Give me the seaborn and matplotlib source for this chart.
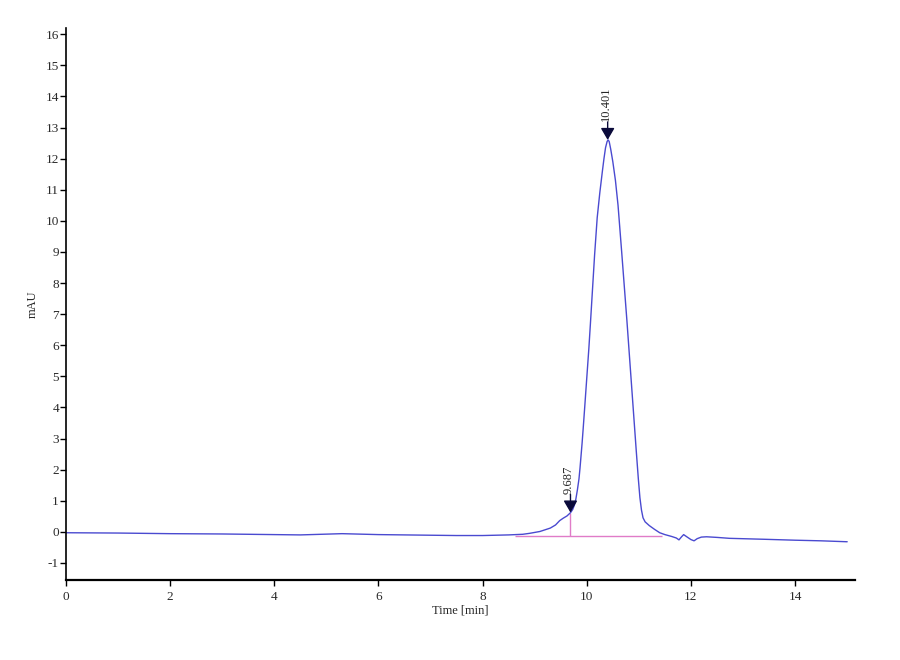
import matplotlib
matplotlib.use("Agg")
import matplotlib.pyplot as plt
import seaborn as sns
import pandas as pd

# chromatogram trace (time in min, signal in mAU)
time_min = [0.0, 1.0, 2.0, 3.0, 4.0, 4.5, 5.3, 6.0, 7.0, 7.5, 8.0, 8.5, 8.77, 8.9,
            9.1, 9.3, 9.4, 9.48, 9.55, 9.62, 9.69, 9.73, 9.76, 9.79, 9.82, 9.85,
            9.87, 9.89, 9.91, 9.93, 9.96, 10.0, 10.04, 10.07, 10.11, 10.15, 10.20,
            10.25, 10.30, 10.33, 10.36, 10.39, 10.41, 10.43, 10.46, 10.50, 10.55,
            10.60, 10.67, 10.77, 10.86, 10.95, 10.99, 11.02, 11.05, 11.08, 11.12,
            11.20, 11.30, 11.40, 11.50, 11.63, 11.72, 11.77, 11.82, 11.86, 11.92,
            12.00, 12.06, 12.12, 12.20, 12.30, 12.50, 12.74, 13.40, 14.00, 14.50,
            15.00]
signal_mau = [-0.03, -0.04, -0.06, -0.07, -0.09, -0.10, -0.06, -0.09, -0.11, -0.12,
              -0.12, -0.10, -0.08, -0.05, 0.01, 0.12, 0.22, 0.36, 0.44, 0.51, 0.62,
              0.72, 0.85, 1.05, 1.35, 1.7, 2.05, 2.45, 2.85, 3.3, 4.0, 4.95, 5.9,
              6.7, 7.8, 8.9, 10.1, 10.9, 11.6, 12.0, 12.35, 12.55, 12.6, 12.55,
              12.3, 11.9, 11.3, 10.5, 9.0, 6.8, 4.7, 2.6, 1.7, 1.1, 0.7, 0.45, 0.32,
              0.20, 0.08, -0.03, -0.09, -0.15, -0.20, -0.26, -0.16, -0.09, -0.16,
              -0.25, -0.29, -0.22, -0.17, -0.16, -0.18, -0.21, -0.24, -0.27, -0.29,
              -0.32]

peak_times = [9.687, 10.401]
peak_heights = [0.62, 12.6]
peak_labels = ["9.687", "10.401"]

baseline_start = 8.62
baseline_end = 11.44
baseline_level = -0.13

df = pd.DataFrame({"time": time_min, "mau": signal_mau})

sns.set_theme(style="ticks")
plt.rcParams["font.family"] = ["Liberation Serif", "DejaVu Serif"]
plt.rcParams["axes.unicode_minus"] = False

fig = plt.figure(figsize=(9, 6.6), dpi=100)
ax = fig.add_axes([0.0733, 0.1212, 0.8767, 0.8364])

# integration baseline + drop line (pink)
ax.hlines(baseline_level, baseline_start, baseline_end, color="#e07cc8", lw=1)
ax.vlines(peak_times[0], baseline_level, peak_heights[0], color="#e07cc8", lw=1)

sns.lineplot(data=df, x="time", y="mau", ax=ax, color="#4a4ad0", lw=1,
             sort=False, estimator=None)

# peak markers
for t, h, lab in zip(peak_times, peak_heights, peak_labels):
    ax.annotate("", xy=(t, h), xytext=(0, 13), textcoords="offset points",
                arrowprops=dict(arrowstyle="-|>,head_length=0.6,head_width=0.35",
                                color="#0a0a3a", lw=1, mutation_scale=12,
                                shrinkA=0, shrinkB=0))
    ax.annotate(lab, xy=(t, h), xytext=(-1, 13.5), textcoords="offset points",
                rotation=90, ha="center", va="bottom", fontsize=9)

ax.set_xlim(0, 15.15)
ax.set_ylim(-1.55, 16.2)
ax.set_xticks(range(0, 15, 2))
ax.set_yticks(range(-1, 17))
ax.tick_params(axis="both", labelsize=9.5, direction="out", length=4, width=1,
               color="black", labelcolor="#2a2a2a")
ax.tick_params(axis="y", pad=1)
ax.tick_params(axis="x", pad=4)
sns.despine(ax=ax)
ax.spines["left"].set_linewidth(1.2)
ax.spines["bottom"].set_linewidth(1.6)
ax.spines["left"].set_color("black")
ax.spines["bottom"].set_color("black")

ax.set_xlabel("Time [min]", fontsize=9, labelpad=1)
ax.set_ylabel("mAU", fontsize=9)
ax.yaxis.set_label_coords(-0.035, 0.5)

fig.savefig("out.png", dpi=100, facecolor="white")
